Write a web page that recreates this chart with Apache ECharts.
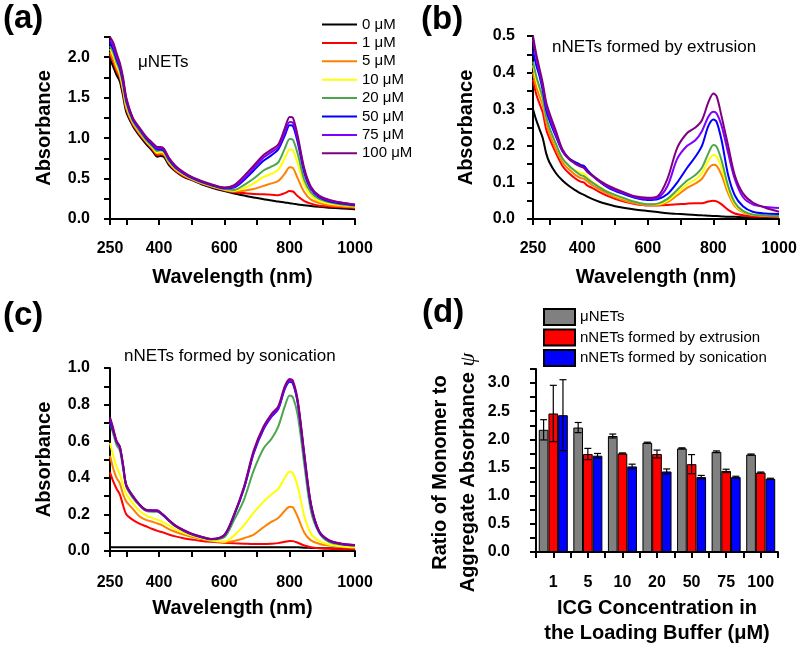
<!DOCTYPE html>
<html><head><meta charset="utf-8">
<script src="https://cdn.jsdelivr.net/npm/echarts@6/dist/echarts.min.js"></script>
<style>html,body{margin:0;padding:0;background:#fff}#chart{width:800px;height:647px}</style>
</head><body><div id="chart"></div>
<script>
// ---------- DATA ----------
const wavelength = [250,260,270,280,290,300,320,340,360,380,395,405,415,430,450,475,500,530,560,600,630,660,690,720,745,765,785,800,810,825,845,865,890,920,960,1000];
const concLabels = ['0 μM','1 μM','5 μM','10 μM','20 μM','50 μM','75 μM','100 μM'];
const concColors = ['#000000','#ff0000','#ff8000','#ffff00','#4ca64c','#0000ff','#8000ff','#800080'];

// (a) μNETs
const a0   = [1.98,1.88,1.78,1.70,1.52,1.32,1.15,1.03,0.93,0.84,0.77,0.78,0.77,0.67,0.59,0.52,0.48,0.43,0.39,0.345,0.315,0.29,0.265,0.245,0.23,0.215,0.205,0.195,0.19,0.18,0.17,0.16,0.15,0.14,0.13,0.12];
const a1   = [2.03,1.94,1.83,1.75,1.57,1.36,1.17,1.05,0.95,0.86,0.79,0.80,0.79,0.69,0.60,0.53,0.49,0.44,0.40,0.355,0.33,0.32,0.31,0.305,0.30,0.295,0.32,0.345,0.34,0.28,0.22,0.19,0.165,0.155,0.145,0.135];
const a5   = [2.06,1.97,1.86,1.77,1.59,1.37,1.18,1.06,0.96,0.87,0.81,0.81,0.80,0.70,0.61,0.54,0.49,0.44,0.40,0.36,0.34,0.35,0.37,0.41,0.44,0.47,0.56,0.64,0.63,0.50,0.33,0.24,0.20,0.17,0.155,0.145];
const a10  = [2.10,2.02,1.90,1.80,1.62,1.40,1.20,1.08,0.97,0.885,0.82,0.83,0.815,0.71,0.62,0.55,0.50,0.45,0.41,0.365,0.35,0.38,0.44,0.52,0.56,0.61,0.75,0.86,0.85,0.68,0.42,0.29,0.22,0.19,0.17,0.155];
const a20  = [2.14,2.06,1.94,1.84,1.66,1.43,1.21,1.09,0.98,0.90,0.84,0.85,0.83,0.72,0.63,0.56,0.505,0.455,0.415,0.37,0.36,0.42,0.50,0.60,0.65,0.70,0.87,0.99,0.98,0.80,0.48,0.33,0.25,0.21,0.18,0.165];
const a50  = [2.18,2.10,1.98,1.87,1.69,1.46,1.23,1.11,1.00,0.915,0.86,0.86,0.845,0.74,0.64,0.565,0.51,0.46,0.42,0.38,0.39,0.48,0.60,0.72,0.79,0.86,1.03,1.16,1.15,0.94,0.57,0.37,0.27,0.22,0.19,0.17];
const a75  = [2.21,2.14,2.01,1.90,1.72,1.48,1.24,1.12,1.01,0.93,0.875,0.875,0.86,0.75,0.65,0.57,0.515,0.465,0.425,0.385,0.40,0.50,0.63,0.76,0.83,0.89,1.07,1.20,1.19,0.98,0.60,0.38,0.28,0.23,0.20,0.175];
const a100 = [2.25,2.18,2.05,1.93,1.75,1.50,1.25,1.13,1.02,0.94,0.89,0.89,0.87,0.76,0.66,0.58,0.52,0.47,0.43,0.39,0.42,0.53,0.66,0.79,0.86,0.92,1.12,1.26,1.25,1.02,0.62,0.40,0.29,0.24,0.20,0.18];

// (b) nNETs formed by extrusion
const b0   = [.30,.27,.245,.22,.18,.155,.125,.105,.09,.078,.07,.066,.061,.055,.048,.041,.035,.03,.026,.022,.019,.016,.014,.012,.011,.01,.009,.008,.008,.007,.006,.006,.005,.005,.004,.004];
const b1   = [.38,.34,.315,.29,.245,.22,.18,.145,.125,.11,.102,.10,.092,.085,.075,.064,.055,.047,.041,.037,.037,.038,.04,.042,.043,.043,.048,.05,.048,.04,.025,.015,.01,.007,.006,.005];
const b5   = [.40,.36,.335,.31,.265,.235,.19,.155,.135,.12,.112,.11,.103,.093,.082,.07,.06,.05,.043,.038,.038,.046,.065,.085,.097,.11,.138,.148,.145,.12,.07,.035,.018,.011,.008,.007];
const b10  = [.42,.38,.355,.325,.28,.25,.205,.165,.145,.132,.126,.124,.115,.102,.09,.076,.065,.055,.047,.04,.04,.05,.072,.095,.108,.125,.16,.175,.17,.14,.08,.04,.02,.012,.009,.008];
const b20  = [.43,.39,.36,.33,.28,.25,.205,.165,.145,.13,.12,.117,.11,.10,.088,.075,.066,.056,.047,.04,.042,.055,.08,.105,.12,.14,.18,.202,.197,.16,.09,.045,.022,.012,.009,.008];
const b50  = [.46,.42,.39,.35,.30,.27,.225,.185,.165,.155,.148,.145,.135,.12,.104,.088,.077,.067,.058,.052,.054,.068,.10,.14,.17,.20,.255,.272,.265,.215,.12,.065,.035,.02,.015,.014];
const b75  = [.49,.44,.40,.36,.31,.28,.23,.185,.163,.15,.143,.14,.13,.118,.104,.09,.08,.07,.06,.055,.058,.09,.165,.20,.215,.24,.28,.293,.288,.255,.18,.11,.06,.04,.033,.03];
const b100 = [.50,.45,.41,.37,.32,.29,.24,.19,.165,.152,.145,.14,.13,.12,.107,.093,.083,.072,.062,.058,.062,.11,.195,.235,.25,.27,.32,.343,.335,.28,.20,.12,.07,.045,.03,.02];

// (c) nNETs formed by sonication
const c0   = [.022,.021,.021,.02,.02,.02,.02,.02,.02,.02,.02,.02,.02,.02,.02,.02,.02,.02,.02,.02,.02,.02,.02,.02,.02,.02,.02,.02,.02,.02,.018,.017,.016,.015,.013,.012];
const c1   = [.43,.38,.34,.31,.25,.20,.17,.15,.135,.12,.11,.105,.10,.09,.08,.07,.063,.055,.05,.045,.042,.04,.038,.038,.04,.043,.05,.055,.054,.045,.03,.02,.015,.012,.01,.01];
const c5   = [.52,.45,.40,.37,.31,.27,.23,.19,.17,.16,.15,.145,.135,.12,.105,.09,.078,.065,.055,.05,.055,.07,.09,.13,.16,.18,.22,.242,.238,.185,.10,.058,.04,.03,.022,.018];
const c10  = [.59,.52,.46,.42,.36,.31,.26,.22,.195,.18,.17,.165,.155,.14,.12,.10,.085,.07,.058,.05,.085,.14,.21,.27,.31,.34,.40,.433,.425,.35,.19,.095,.055,.035,.025,.02];
const c20  = [.70,.64,.58,.55,.45,.35,.29,.25,.22,.215,.215,.205,.19,.165,.135,.11,.09,.074,.063,.075,.17,.28,.44,.56,.615,.68,.79,.85,.84,.74,.47,.22,.10,.05,.035,.03];
const c50  = [.70,.655,.60,.57,.47,.36,.30,.255,.225,.22,.218,.207,.192,.167,.137,.112,.092,.076,.065,.086,.195,.34,.535,.665,.735,.775,.885,.925,.915,.805,.515,.25,.105,.057,.037,.031];
const c75  = [.72,.66,.595,.565,.465,.355,.298,.252,.222,.22,.22,.208,.193,.168,.138,.113,.093,.077,.065,.087,.198,.345,.54,.67,.74,.78,.89,.93,.92,.81,.52,.255,.108,.058,.038,.032];
const c100 = [.73,.67,.60,.57,.47,.36,.30,.255,.225,.222,.222,.21,.195,.17,.14,.115,.095,.078,.066,.088,.20,.35,.55,.68,.75,.79,.90,.94,.93,.82,.53,.26,.11,.06,.04,.033];

// (d) ratio of monomer to aggregate absorbance
const concCategories = ['1','5','10','20','50','75','100'];
const barNames = ['μNETs','nNETs formed by extrusion','nNETs formed by sonication'];
const barColors = ['#808080','#ff0000','#0000ff'];
const ratioMicro      = [2.17,2.21,2.06,1.94,1.84,1.78,1.73];
const ratioExtrusion  = [2.46,1.74,1.75,1.74,1.56,1.44,1.41];
const ratioSonication = [2.43,1.71,1.52,1.43,1.33,1.33,1.30];
const errMicro        = [0.18,0.09,0.035,0.01,0.01,0.015,0.01];
const errExtrusion    = [0.50,0.10,0.01,0.07,0.17,0.03,0.01];
const errSonication   = [0.63,0.04,0.04,0.045,0.03,0.015,0.01];

// tick labels
const wlTicks  = [250,300,400,500,600,700,800,900,1000];
const wlLabels = [250,400,600,800,1000];

// ---------- CHART ----------
const FONT = '"Liberation Sans", Arial, sans-serif';
const chart = echarts.init(document.getElementById('chart'), null, {renderer:'canvas'});

const isStep = (v, step) => Math.abs(Math.round(v / step) * step - v) < 1e-6;

function wlAxis(gridIndex, margin, nameGap) {
  return {
    type:'value', gridIndex, min:250, max:1000,
    axisLine:{show:true, onZero:false, lineStyle:{color:'#000', width:2}},
    axisTick:{show:true, length:6, lineStyle:{color:'#000', width:2}, customValues: wlTicks},
    axisLabel:{customValues: wlLabels, margin, fontSize:16, fontWeight:'bold', color:'#000', fontFamily:FONT,
      formatter: v => String(v)},
    splitLine:{show:false},
    name:'Wavelength (nm)', nameLocation:'middle', nameGap,
    nameTextStyle:{fontSize:20, fontWeight:'bold', color:'#000', fontFamily:FONT}
  };
}
function absAxis(gridIndex, max, interval, labelStep, margin, nameGap) {
  return {
    type:'value', gridIndex, min:0, max, interval,
    axisLine:{show:true, onZero:false, lineStyle:{color:'#000', width:2}},
    axisTick:{show:true, length:6, lineStyle:{color:'#000', width:2}},
    axisLabel:{margin, fontSize:16, fontWeight:'bold', color:'#000', fontFamily:FONT,
      formatter: v => isStep(v, labelStep) ? v.toFixed(1) : ''},
    splitLine:{show:false},
    name:'Absorbance', nameLocation:'middle', nameGap,
    nameTextStyle:{fontSize:20, fontWeight:'bold', color:'#000', fontFamily:FONT}
  };
}

const panels = [
  {grid:0, sets:[a0,a1,a5,a10,a20,a50,a75,a100]},
  {grid:1, sets:[b0,b1,b5,b10,b20,b50,b75,b100]},
  {grid:2, sets:[c0,c1,c5,c10,c20,c50,c75,c100]}
];
const series = [];
panels.forEach(p => {
  p.sets.forEach((arr, k) => {
    series.push({
      type:'line', name: concLabels[k], xAxisIndex:p.grid, yAxisIndex:p.grid,
      data: wavelength.map((w, i) => [w, arr[i]]),
      symbol:'none', showSymbol:false, smooth:0.3,
      lineStyle:{width:2, color:concColors[k]}, itemStyle:{color:concColors[k]},
      z: 2 + k
    });
  });
});

const barSets = [ratioMicro, ratioExtrusion, ratioSonication];
const errSets = [errMicro, errExtrusion, errSonication];
barSets.forEach((arr, k) => {
  series.push({
    type:'bar', name: barNames[k], xAxisIndex:3, yAxisIndex:3,
    data: arr, barGap:'0%', barCategoryGap:'16%',
    itemStyle:{color:barColors[k], borderColor:'#000', borderWidth:1}
  });
});
const errData = [];
errSets.forEach((errs, k) => {
  errs.forEach((e, i) => errData.push([i, barSets[k][i], e, k]));
});
series.push({
  type:'custom', xAxisIndex:3, yAxisIndex:3, z:10,
  encode:{x:0, y:1},
  data: errData,
  renderItem: (params, api) => {
    const i = api.value(0), m = api.value(1), e = api.value(2), k = api.value(3);
    const catW = api.size([1, 0])[0];
    const bw = catW * 0.84 / 3;
    const x = api.coord([i, m])[0] + (k - 1) * bw;
    const yt = api.coord([i, m + e])[1];
    const yb = api.coord([i, m - e])[1];
    const c = 3.5;
    const st = {stroke:'#000', lineWidth:1.2};
    return {type:'group', children:[
      {type:'line', shape:{x1:x, y1:yt, x2:x, y2:yb}, style:st},
      {type:'line', shape:{x1:x-c, y1:yt, x2:x+c, y2:yt}, style:st},
      {type:'line', shape:{x1:x-c, y1:yb, x2:x+c, y2:yb}, style:st}
    ]};
  }
});

const catAxisBase = {
  type:'category', gridIndex:3, data: concCategories, position:'bottom', boundaryGap:true
};

const option = {
  animation:false,
  backgroundColor:'#fff',
  textStyle:{fontFamily:FONT},
  grid:[
    {left:110, top:37, width:245, height:182},
    {left:533, top:36, width:246, height:183},
    {left:110, top:368, width:245, height:183},
    {left:536, top:369, width:242, height:183}
  ],
  xAxis:[
    wlAxis(0, 22, 48),
    wlAxis(1, 22, 48),
    wlAxis(2, 24, 47),
    Object.assign({}, catAxisBase, {
      axisLine:{show:true, onZero:false, lineStyle:{color:'#000', width:2}},
      axisTick:{show:true, interval:0, alignWithLabel:false, length:6, lineStyle:{color:'#000', width:2}},
      axisLabel:{interval:0, margin:23, fontSize:16, fontWeight:'bold', color:'#000', fontFamily:FONT},
      name:'ICG Concentration in\nthe Loading Buffer (μM)', nameLocation:'middle', nameGap:44,
      nameTextStyle:{fontSize:20, fontWeight:'bold', color:'#000', fontFamily:FONT, lineHeight:25}
    }),
    Object.assign({}, catAxisBase, {
      axisLine:{show:false},
      axisTick:{show:true, interval:0, alignWithLabel:true, length:6, lineStyle:{color:'#000', width:2}},
      axisLabel:{show:false}
    })
  ],
  yAxis:[
    absAxis(0, 2.25, 0.25, 0.5, 20, 56),
    absAxis(1, 0.5, 0.05, 0.1, 18, 57),
    absAxis(2, 1.0, 0.1, 0.2, 20, 56),
    {
      type:'value', gridIndex:3, min:0, max:3.25, interval:0.25,
      axisLine:{show:true, onZero:false, lineStyle:{color:'#000', width:2}},
      axisTick:{show:true, length:6, lineStyle:{color:'#000', width:2}},
      axisLabel:{margin:26, fontSize:16, fontWeight:'bold', color:'#000', fontFamily:FONT,
        formatter: v => isStep(v, 0.5) ? v.toFixed(1) : ''},
      splitLine:{show:false},
      name:'{n|Ratio of Monomer to}\n{n|Aggregate Absorbance }{i|ψ}',
      nameLocation:'middle', nameGap:54,
      nameTextStyle:{fontSize:20, fontWeight:'bold', color:'#000', fontFamily:FONT, lineHeight:28,
        padding:[0,24,0,0],
        rich:{
          n:{fontSize:20, fontWeight:'bold', color:'#000', fontFamily:FONT, lineHeight:28},
          i:{fontSize:22, fontStyle:'italic', fontWeight:'normal', color:'#000', fontFamily:'"Liberation Serif", serif', lineHeight:28}
        }}
    }
  ],
  legend:[
    {
      data: concLabels, orient:'vertical', left:321, top:17, padding:0, selectedMode:false,
      itemWidth:35, itemHeight:15, itemGap:3.4, itemStyle:{opacity:0},
      textStyle:{fontSize:15, color:'#000', fontFamily:FONT, lineHeight:15}
    },
    {
      data: barNames, orient:'vertical', left:543, top:308, padding:0, selectedMode:false, icon:'rect',
      itemWidth:31, itemHeight:16, itemGap:2.5, itemTextGap:6,
      textStyle:{fontSize:15, color:'#000', fontFamily:FONT, lineHeight:16}
    }
  ],
  graphic:[
    {type:'text', x:3, y:19, style:{text:'(a)', font:'bold 33px '+FONT, fill:'#000', verticalAlign:'middle'}},
    {type:'text', x:421, y:20, style:{text:'(b)', font:'bold 33px '+FONT, fill:'#000', verticalAlign:'middle'}},
    {type:'text', x:3, y:316, style:{text:'(c)', font:'bold 33px '+FONT, fill:'#000', verticalAlign:'middle'}},
    {type:'text', x:422, y:313, style:{text:'(d)', font:'bold 33px '+FONT, fill:'#000', verticalAlign:'middle'}},
    {type:'text', x:138, y:62, style:{text:'μNETs', font:'17px '+FONT, fill:'#000', verticalAlign:'middle'}},
    {type:'text', x:552, y:47, style:{text:'nNETs formed by extrusion', font:'17px '+FONT, fill:'#000', verticalAlign:'middle'}},
    {type:'text', x:124, y:356, style:{text:'nNETs formed by sonication', font:'17px '+FONT, fill:'#000', verticalAlign:'middle'}}
  ],
  series
};
chart.setOption(option);
</script></body></html>
